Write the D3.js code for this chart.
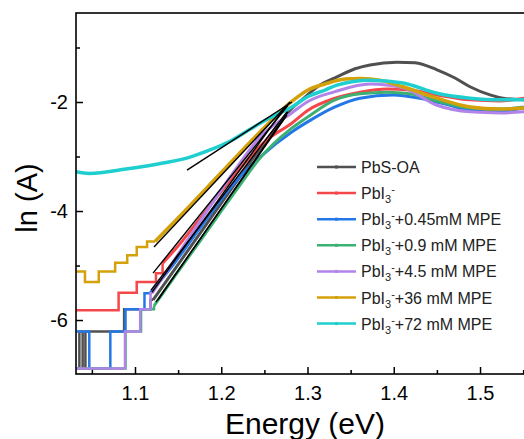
<!DOCTYPE html>
<html>
<head>
<meta charset="utf-8">
<script src="https://cdn.jsdelivr.net/npm/d3@7"></script>
<style>
  body { margin: 0; background: #fff; }
  svg { display: block; font-family: "Liberation Sans", Arial, sans-serif; }
</style>
</head>
<body>
<div id="chart"></div>
<script>
// legend labels (sub/superscript handled when drawing)
var seriesNames = [
  "PbS-OA",
  "PbI3-",
  "PbI3-+0.45mM MPE",
  "PbI3-+0.9 mM MPE",
  "PbI3-+4.5 mM MPE",
  "PbI3-+36 mM MPE",
  "PbI3-+72 mM MPE"
];

// low energy part is quantized -> drawn as steps, [energy, ln A]
var pbsOaSteps = [[1.032, -6.89], [1.0355, -6.21], [1.0393, -6.89], [1.0425, -6.21], [1.0874, -5.8], [1.118, -5.63]];
var pbsOaCurve = [
  [1.121, -5.63], [1.1464, -5.06], [1.1754, -4.41], [1.2043, -3.76], [1.2333, -3.11], [1.2565, -2.61],
  [1.2797, -2.15], [1.2971, -1.91], [1.3145, -1.69], [1.3342, -1.54], [1.3551, -1.39], [1.3725, -1.32],
  [1.4038, -1.27], [1.4246, -1.28], [1.4501, -1.41], [1.471, -1.56], [1.4884, -1.72], [1.5116, -1.87],
  [1.5267, -1.93], [1.551, -1.96]
];

var pbi3Steps = [[1.032, -5.82], [1.081, -5.5], [1.102, -5.3], [1.1243, -5.14]];
var pbi3Curve = [
  [1.132, -4.96], [1.1522, -4.6], [1.187, -3.9], [1.2217, -3.22], [1.2507, -2.72], [1.2817, -2.39],
  [1.3006, -2.15], [1.3319, -1.93], [1.3609, -1.82], [1.3922, -1.76], [1.4188, -1.78], [1.4501, -1.87],
  [1.4884, -1.96], [1.5232, -1.98], [1.551, -1.93]
];

var mpe045Steps = [[1.032, -6.21], [1.047, -6.89], [1.0714, -6.21], [1.089, -5.8], [1.111, -5.51]];
var mpe045Curve = [
  [1.1174, -5.51], [1.1464, -4.94], [1.1754, -4.31], [1.2183, -3.43], [1.2449, -3.01], [1.2817, -2.55],
  [1.3006, -2.36], [1.3319, -2.09], [1.3609, -1.93], [1.3991, -1.87], [1.4304, -1.93], [1.4652, -2.06],
  [1.4884, -2.15], [1.5232, -2.17], [1.551, -2.11]
];

var mpe09Steps = [[1.032, -6.89], [1.089, -6.21], [1.107, -5.8]];
var mpe09Curve = [
  [1.122, -5.74], [1.1464, -5.19], [1.1754, -4.55], [1.2183, -3.6], [1.2449, -3.03], [1.2817, -2.48],
  [1.3006, -2.27], [1.3319, -1.96], [1.3609, -1.85], [1.3922, -1.82], [1.4188, -1.85], [1.4501, -1.98],
  [1.4884, -2.11], [1.5232, -2.13], [1.551, -2.09]
];

var mpe45Steps = [[1.032, -6.89], [1.0884, -6.21], [1.106, -5.8], [1.118, -5.51]];
var mpe45Curve = [
  [1.1197, -5.51], [1.1464, -4.88], [1.1754, -4.19], [1.2159, -3.25], [1.2449, -2.64], [1.2817, -2.2],
  [1.3006, -1.99], [1.3319, -1.81], [1.3725, -1.67], [1.4107, -1.74], [1.4501, -2.06], [1.4884, -2.18],
  [1.5232, -2.2], [1.551, -2.18]
];

var mpe36Steps = [[1.032, -5.11], [1.042, -5.3], [1.058, -5.11], [1.077, -4.95], [1.091, -4.81], [1.102, -4.66], [1.114, -4.56]];
var mpe36Curve = [
  [1.1232, -4.56], [1.1522, -4.09], [1.2009, -3.28], [1.2449, -2.55], [1.2817, -1.99], [1.3006, -1.78],
  [1.3203, -1.67], [1.3435, -1.58], [1.3609, -1.57], [1.3841, -1.6], [1.4107, -1.72], [1.4501, -1.93],
  [1.4884, -2.09], [1.5232, -2.13], [1.551, -2.11]
];

var mpe72Steps = [];
var mpe72Curve = [
  [1.0316, -3.28], [1.0467, -3.31], [1.0896, -3.23], [1.1325, -3.12], [1.1638, -3.01], [1.187, -2.88],
  [1.2101, -2.72], [1.2333, -2.5], [1.2565, -2.29], [1.282, -2.09], [1.3006, -1.9], [1.3203, -1.78],
  [1.3342, -1.69], [1.3725, -1.6], [1.4107, -1.65], [1.4501, -1.84], [1.4884, -1.93], [1.5232, -1.96],
  [1.551, -1.96]
];

// black linear fits: [E1, lnA1, E2, lnA2]
var fitLines = [
  [1.1267, -5.63, 1.2774, -2.18],
  [1.1209, -5.14, 1.2774, -2.06],
  [1.1186, -5.45, 1.2762, -2.18],
  [1.1243, -5.67, 1.2762, -2.24],
  [1.1197, -5.49, 1.275, -2.07],
  [1.122, -4.66, 1.2797, -2.0],
  [1.1603, -3.25, 1.282, -2.0]
];

var xMajorTicks = [1.1, 1.2, 1.3, 1.4, 1.5];
var xMinorTicks = [1.05, 1.15, 1.25, 1.35, 1.45, 1.55];
var yMajorTicks = [-6, -4, -2];
var yMinorTicks = [-5, -3, -1];

var colors = ["#505050", "#f5474a", "#2478e6", "#3cb173", "#b283e8", "#d4a10a", "#1fcfcf"];

var series = [
  { steps: pbsOaSteps, curve: pbsOaCurve },
  { steps: pbi3Steps, curve: pbi3Curve },
  { steps: mpe045Steps, curve: mpe045Curve },
  { steps: mpe09Steps, curve: mpe09Curve },
  { steps: mpe45Steps, curve: mpe45Curve },
  { steps: mpe36Steps, curve: mpe36Curve },
  { steps: mpe72Steps, curve: mpe72Curve }
];

var width = 524;
var height = 439;
var plot = { left: 76, right: 531, top: 13, bottom: 374 };

var svg = d3
  .select("#chart")
  .append("svg")
  .attr("width", width)
  .attr("height", height);

svg.append("rect").attr("width", width).attr("height", height).attr("fill", "#fff");

var xScale = d3.scaleLinear().domain([1.0316, 1.5591]).range([plot.left, plot.right]);
var yScale = d3.scaleLinear().domain([-6.99, -0.367]).range([plot.bottom, plot.top]);

svg
  .append("clipPath")
  .attr("id", "clip")
  .append("rect")
  .attr("x", plot.left)
  .attr("y", plot.top)
  .attr("width", plot.right - plot.left)
  .attr("height", plot.bottom - plot.top);

var stepLine = d3
  .line()
  .x((d) => xScale(d[0]))
  .y((d) => yScale(d[1]))
  .curve(d3.curveStepAfter);

var smoothLine = d3
  .line()
  .x((d) => xScale(d[0]))
  .y((d) => yScale(d[1]))
  .curve(d3.curveMonotoneX);

var dataLayer = svg.append("g").attr("clip-path", "url(#clip)");

series.forEach(function (s, i) {
  if (s.steps.length) {
    dataLayer
      .append("path")
      .attr("d", stepLine(s.steps.concat([s.curve[0]])))
      .attr("fill", "none")
      .attr("stroke", colors[i])
      .attr("stroke-width", 2.5);
  }
  dataLayer
    .append("path")
    .attr("d", smoothLine(s.curve))
    .attr("fill", "none")
    .attr("stroke", colors[i])
    .attr("stroke-width", i >= 5 ? 3.5 : 3)
    .attr("stroke-linejoin", "round");
});

// fitted tangents on top
dataLayer
  .selectAll(".fit")
  .data(fitLines)
  .enter()
  .append("line")
  .attr("class", "fit")
  .attr("x1", (d) => xScale(d[0]))
  .attr("y1", (d) => yScale(d[1]))
  .attr("x2", (d) => xScale(d[2]))
  .attr("y2", (d) => yScale(d[3]))
  .attr("stroke", "#000")
  .attr("stroke-width", 1.4);

// axes, ticks pointing inwards
svg
  .append("g")
  .attr("transform", "translate(0," + plot.bottom + ")")
  .call(d3.axisBottom(xScale).tickValues(xMajorTicks).tickFormat(d3.format(".1f")).tickSizeInner(-7).tickSizeOuter(0).tickPadding(12));
svg
  .append("g")
  .attr("transform", "translate(0," + plot.bottom + ")")
  .call(d3.axisBottom(xScale).tickValues(xMinorTicks).tickFormat("").tickSizeInner(-4).tickSizeOuter(0));

svg
  .append("g")
  .attr("transform", "translate(" + plot.left + ",0)")
  .call(d3.axisLeft(yScale).tickValues(yMajorTicks).tickFormat((d) => String(d)).tickSizeInner(-7).tickSizeOuter(0).tickPadding(8));
svg
  .append("g")
  .attr("transform", "translate(" + plot.left + ",0)")
  .call(d3.axisLeft(yScale).tickValues(yMinorTicks).tickFormat("").tickSizeInner(-4).tickSizeOuter(0));

svg.selectAll(".domain").remove();
svg.selectAll(".tick line").attr("stroke", "#000").attr("stroke-width", 1.5);
svg
  .selectAll(".tick text")
  .attr("fill", "#000")
  .style("font-size", "20px")
  .style("font-family", "'Liberation Sans', Arial, sans-serif");

// frame (right edge falls outside the picture)
svg
  .append("rect")
  .attr("x", plot.left)
  .attr("y", plot.top)
  .attr("width", plot.right - plot.left)
  .attr("height", plot.bottom - plot.top)
  .attr("fill", "none")
  .attr("stroke", "#000")
  .attr("stroke-width", 1.6);

// axis titles
svg
  .append("text")
  .attr("x", 305)
  .attr("y", 434)
  .attr("text-anchor", "middle")
  .style("font-size", "30px")
  .text("Energy (eV)");

svg
  .append("text")
  .attr("transform", "translate(37,198) rotate(-90)")
  .attr("text-anchor", "middle")
  .style("font-size", "29px")
  .text("ln (A)");

// legend
var legend = svg.append("g").attr("transform", "translate(317,167)");
seriesNames.forEach(function (name, i) {
  var row = legend.append("g").attr("transform", "translate(0," + i * 26.1 + ")");
  row
    .append("line")
    .attr("x1", 0)
    .attr("x2", 39)
    .attr("stroke", colors[i])
    .attr("stroke-width", 2.5);
  row
    .append("rect")
    .attr("x", 18)
    .attr("y", -1.5)
    .attr("width", 3)
    .attr("height", 3)
    .attr("fill", colors[i]);

  var t = row
    .append("text")
    .attr("x", 44)
    .attr("y", 6)
    .style("font-size", "16px")
    .attr("fill", "#222");
  if (name.indexOf("PbI3-") === 0) {
    var rest = name.slice(5);
    t.append("tspan").text("PbI");
    t.append("tspan").attr("dy", 4).style("font-size", "11px").text("3");
    t.append("tspan").attr("dy", -10).style("font-size", "11px").text("-");
    t.append("tspan").attr("dy", 6).text(rest);
  } else {
    t.text(name);
  }
});
</script>
</body>
</html>
